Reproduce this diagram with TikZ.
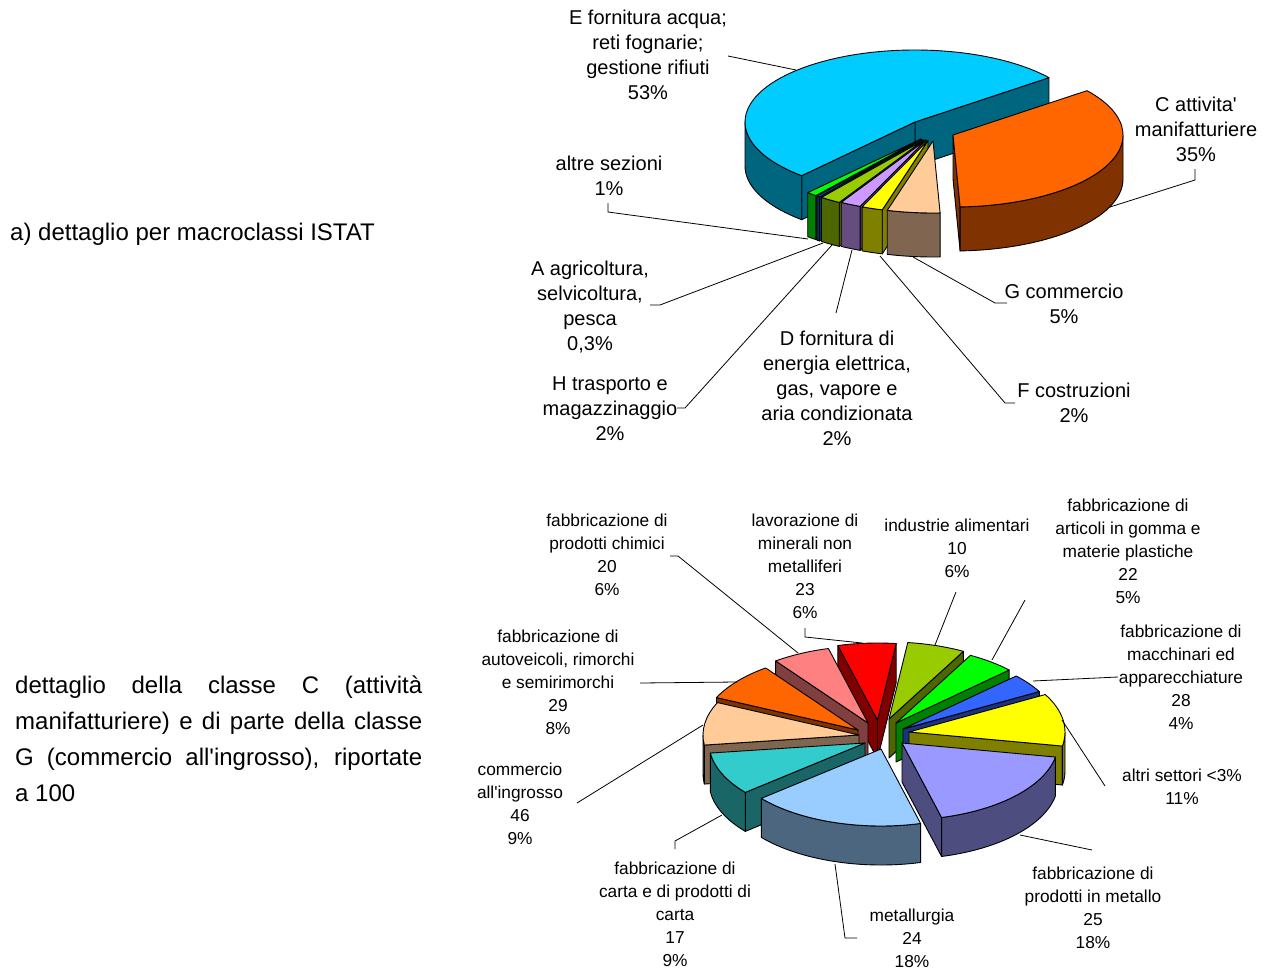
\documentclass[tikz,border=0pt]{standalone}
\usepackage{fontspec}
\setmainfont{Liberation Sans}
\definecolor{cEt}{HTML}{00CCFF}\definecolor{cEs}{HTML}{006680}
\definecolor{cOt}{HTML}{FF6600}\definecolor{cOs}{HTML}{803300}
\definecolor{cPt}{HTML}{FFCC99}\definecolor{cPs}{HTML}{806650}
\definecolor{cYt}{HTML}{FFFF00}\definecolor{cYs}{HTML}{808000}
\definecolor{cLt}{HTML}{CC99FF}\definecolor{cLs}{HTML}{664D80}
\definecolor{cVt}{HTML}{99CC00}\definecolor{cVs}{HTML}{4D6600}
\definecolor{cAt}{HTML}{0066CC}\definecolor{cAs}{HTML}{003366}
\definecolor{cGt}{HTML}{00FF00}\definecolor{cGs}{HTML}{008000}
\definecolor{cBt}{HTML}{3366FF}\definecolor{cBs}{HTML}{1A3380}
\definecolor{cWt}{HTML}{9999FF}\definecolor{cWs}{HTML}{4D4D80}
\definecolor{cSt}{HTML}{99CCFF}\definecolor{cSs}{HTML}{4D6680}
\definecolor{cTt}{HTML}{33CCCC}\definecolor{cTs}{HTML}{1A6666}
\definecolor{cRt}{HTML}{FF0000}\definecolor{cRs}{HTML}{800000}
\definecolor{cKt}{HTML}{FF8080}\definecolor{cKs}{HTML}{804040}
\newcommand\PieSide[4]{\filldraw[fill=#4,pe] (#1,-#2) -- ++(#3:\PRX pt and \PRY pt) -- ++(0,-\PH pt) -- ++({#3+180}:\PRX pt and \PRY pt) -- cycle;}
\newcommand\PieCurve[5]{\filldraw[fill=#5,pe] (#1,-#2) ++(#3:\PRX pt and \PRY pt) arc[start angle=#3,end angle=#4,x radius=\PRX pt,y radius=\PRY pt] -- ++(0,-\PH pt) arc[start angle=#4,end angle=#3,x radius=\PRX pt,y radius=\PRY pt] -- cycle;}
\newcommand\PieTop[5]{\filldraw[fill=#5,pe] (#1,-#2) -- ++(#3:\PRX pt and \PRY pt) arc[start angle=#3,end angle=#4,x radius=\PRX pt,y radius=\PRY pt] -- cycle;}
\tikzset{
 pe/.style={draw=black,line width=0.9pt,line join=round},
 lt/.style={font=\fontsize{20}{25}\selectfont,align=center,inner sep=0pt,anchor=north},
 lb/.style={font=\fontsize{17.3}{23}\selectfont,align=center,inner sep=0pt,anchor=north},
 ld/.style={draw=black,line width=0.8pt},
}
\begin{document}
\begin{tikzpicture}[x=1pt,y=1pt]
\useasboundingbox (0,0) rectangle (1270,-969);
\fill[white] (0,0) rectangle (1270,-969);
% ---------------- top pie
\def\PRX{170}\def\PRY{72}\def\PH{44}
\PieSide{915}{122}{38}{cEs}
\PieSide{915}{122}{228.2}{cEs}
\PieCurve{915}{122}{180}{228.2}{cEs}
\PieTop{915}{122}{38}{228.2}{cEt}
\PieSide{953}{135}{272.4}{cOs}
\PieCurve{953}{135}{272.4}{360}{cOs}
\PieTop{953}{135}{272.4}{398}{cOt}
\PieSide{921}{139}{231.8}{cGs}
\PieCurve{921}{139}{228.2}{231.8}{cGs}
\PieTop{921}{139}{228.2}{231.8}{cGt}
\PieSide{922}{139.5}{232.9}{cAs}
\PieCurve{922}{139.5}{231.8}{232.9}{cAs}
\PieTop{922}{139.5}{231.8}{232.9}{cAt}
\PieSide{924}{140}{240.1}{cVs}
\PieCurve{924}{140}{232.9}{240.1}{cVs}
\PieTop{924}{140}{232.9}{240.1}{cVt}
\PieSide{926}{140}{247.2}{cLs}
\PieCurve{926}{140}{240.1}{247.2}{cLs}
\PieTop{926}{140}{240.1}{247.2}{cLt}
\PieSide{928}{140.5}{254.4}{cYs}
\PieCurve{928}{140.5}{247.2}{254.4}{cYs}
\PieTop{928}{140.5}{247.2}{254.4}{cYt}
\PieCurve{933}{141}{254.4}{272.4}{cPs}
\PieTop{933}{141}{254.4}{272.4}{cPt}
% ---------------- bottom pie
\def\PRX{156}\def\PRY{77}\def\PH{39}
% red
\PieSide{877.5}{720}{83.1}{cRs}
\PieSide{877.5}{720}{104.7}{cRs}
\PieTop{877.5}{720}{83.1}{104.7}{cRt}
% yellow-green
\PieSide{889}{719}{61.5}{cVs}
\PieTop{889}{719}{61.5}{83.1}{cVt}
% pink
\PieSide{868}{723}{126.3}{cKs}
\PieTop{868}{723}{104.7}{126.3}{cKt}
% green
\PieSide{896}{723}{43.5}{cGs}
\PieTop{896}{723}{43.5}{61.5}{cGt}
% orange
\PieSide{858}{730}{155.1}{cOs}
\PieTop{858}{730}{126.3}{155.1}{cOt}
% blue
\PieSide{903}{729}{29.1}{cBs}
\PieTop{903}{729}{29.1}{43.5}{cBt}
% yellow
\PieSide{909}{732}{-10.5}{cYs}
\PieCurve{909}{732}{-10.5}{0}{cYs}
\PieTop{909}{732}{-10.5}{29.1}{cYt}
% peach
\PieSide{859}{735}{187.5}{cPs}
\PieCurve{859}{735}{180}{187.5}{cPs}
\PieTop{859}{735}{155.1}{187.5}{cPt}
% teal
\PieSide{865}{743}{219.9}{cTs}
\PieCurve{865}{743}{187.5}{219.9}{cTs}
\PieTop{865}{743}{187.5}{219.9}{cTt}
% lavender
\PieSide{902}{743}{284.7}{cWs}
\PieCurve{902}{743}{284.7}{349.5}{cWs}
\PieTop{902}{743}{284.7}{349.5}{cWt}
% light blue
\PieCurve{881}{749}{219.9}{284.7}{cSs}
\PieTop{881}{749}{219.9}{284.7}{cSt}
% ---------------- left texts
\node[font=\fontsize{24}{29}\selectfont,anchor=base west,inner sep=0pt] (ta) at (10,-240.6) {a) dettaglio per macroclassi ISTAT};
\node[font=\fontsize{24}{36}\selectfont,text width=407pt,align=justify,inner sep=0pt,anchor=north west] (tb) at (15,-676)
 {\hyphenpenalty=10000 dettaglio della classe C (attività\linebreak manifatturiere) e di parte della classe\linebreak G (commercio all\textquotesingle ingrosso), riportate\linebreak a 100};
% ---------------- top labels
\node[lt] (lE) at (648,-9.6) {E fornitura acqua;\\reti fognarie;\\gestione rifiuti\\53\%};
\node[lt] (lC) at (1196,-96.6) {C attivita\textquotesingle\\manifatturiere\\35\%};
\node[lt] (lAl) at (609,-155.6) {altre sezioni\\1\%};
\node[lt] (lA) at (590,-261) {A agricoltura,\\selvicoltura,\\pesca\\0,3\%};
\node[lt] (lG) at (1064,-284) {G commercio\\5\%};
\node[lt] (lD) at (837,-331) {D fornitura di\\energia elettrica,\\gas, vapore e\\aria condizionata\\2\%};
\node[lt] (lH) at (610,-377) {H trasporto e\\magazzinaggio\\2\%};
\node[lt] (lF) at (1074,-383) {F costruzioni\\2\%};
% top leaders
\coordinate (e1) at (728,-56); \coordinate (e2) at (796,-70);
\draw[ld] (e1) -- (e2);
\coordinate (c1) at (1195,-169); \coordinate (c2) at (1195,-180); \coordinate (c3) at (1110,-207);
\draw[ld] (c1) -- (c2) -- (c3);
\coordinate (s1) at (608,-203); \coordinate (s2) at (608,-212); \coordinate (s3) at (808,-239);
\draw[ld] (s1) -- (s2) -- (s3);
\coordinate (a1) at (650,-305); \coordinate (a2) at (660,-305); \coordinate (a3) at (823,-243);
\draw[ld] (a1) -- (a2) -- (a3);
\coordinate (h1) at (677,-408); \coordinate (h2) at (685,-408); \coordinate (h3) at (832,-245);
\draw[ld] (h1) -- (h2) -- (h3);
\coordinate (d1) at (836,-313); \coordinate (d2) at (852,-250);
\draw[ld] (d1) -- (d2);
\coordinate (g1) at (1007,-303); \coordinate (g2) at (995,-303); \coordinate (g3) at (913,-257);
\draw[ld] (g1) -- (g2) -- (g3);
\coordinate (f1) at (1015,-403); \coordinate (f2) at (1005,-403); \coordinate (f3) at (880,-256);
\draw[ld] (f1) -- (f2) -- (f3);
% ---------------- bottom labels
\node[lb] (bK) at (607,-513.5) {fabbricazione di\\prodotti chimici\\20\\6\%};
\node[lb] (bR) at (805,-513.5) {lavorazione di\\minerali non\\metalliferi\\23\\6\%};
\node[lb] (bV) at (957,-518.5) {industrie alimentari\\10\\6\%};
\node[lb] (bG) at (1128,-498.5) {fabbricazione di\\articoli in gomma e\\materie plastiche\\22\\5\%};
\node[lb] (bB) at (1181,-624.5) {fabbricazione di\\macchinari ed\\apparecchiature\\28\\4\%};
\node[lb] (bO) at (558,-629.5) {fabbricazione di\\autoveicoli, rimorchi\\e semirimorchi\\29\\8\%};
\node[lb] (bY) at (1182,-768.5) {altri settori <3\%\\11\%};
\node[lb] (bP) at (520,-762.5) {commercio\\all\textquotesingle ingrosso\\46\\9\%};
\node[lb] (bT) at (675,-861.5) {fabbricazione di\\carta e di prodotti di\\carta\\17\\9\%};
\node[lb] (bS) at (912,-908.5) {metallurgia\\24\\18\%};
\node[lb] (bW) at (1093,-866.5) {fabbricazione di\\prodotti in metallo\\25\\18\%};
% bottom leaders
\coordinate (k1) at (670,-556); \coordinate (k2) at (678,-556); \coordinate (k3) at (798,-653);
\draw[ld] (k1) -- (k2) -- (k3);
\coordinate (r1) at (805,-628); \coordinate (r2) at (805,-637); \coordinate (r3) at (862,-643);
\draw[ld] (r1) -- (r2) -- (r3);
\coordinate (v1) at (956,-592); \coordinate (v2) at (935,-645);
\draw[ld] (v1) -- (v2);
\coordinate (gg1) at (1025,-600); \coordinate (gg2) at (992,-660);
\draw[ld] (gg1) -- (gg2);
\coordinate (b1) at (1118,-677); \coordinate (b2) at (1033,-681);
\draw[ld] (b1) -- (b2);
\coordinate (y1) at (1105,-786); \coordinate (y2) at (1062,-720);
\draw[ld] (y1) -- (y2);
\coordinate (w1) at (1020,-835); \coordinate (w2) at (1092,-850);
\draw[ld] (w1) -- (w2);
\coordinate (m1) at (835,-864); \coordinate (m2) at (845,-938); \coordinate (m3) at (857,-938);
\draw[ld] (m1) -- (m2) -- (m3);
\coordinate (t1) at (722,-815); \coordinate (t2) at (675,-841); \coordinate (t3) at (675,-849);
\draw[ld] (t1) -- (t2) -- (t3);
\coordinate (p1) at (577,-803); \coordinate (p2) at (703,-725);
\draw[ld] (p1) -- (p2);
\coordinate (o1) at (640,-683); \coordinate (o2) at (737,-682);
\draw[ld] (o1) -- (o2);
\end{tikzpicture}
\end{document}
